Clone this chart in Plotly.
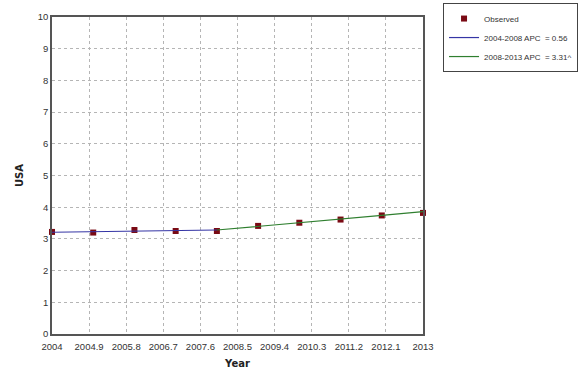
import plotly.graph_objects as go

years = [2004, 2005, 2006, 2007, 2008, 2009, 2010, 2011, 2012, 2013]
observed = [3.22, 3.20, 3.28, 3.25, 3.25, 3.41, 3.51, 3.61, 3.74, 3.82]

seg1_years = [2004, 2005, 2006, 2007, 2008]
seg1_fit = [3.21, 3.23, 3.25, 3.26, 3.28]
seg2_years = [2008, 2009, 2010, 2011, 2012, 2013]
seg2_fit = [3.28, 3.39, 3.50, 3.62, 3.74, 3.86]

x_ticks = [2004, 2004.9, 2005.8, 2006.7, 2007.6, 2008.5, 2009.4, 2010.3, 2011.2, 2012.1, 2013]
x_tick_labels = ["2004", "2004.9", "2005.8", "2006.7", "2007.6", "2008.5", "2009.4",
                 "2010.3", "2011.2", "2012.1", "2013"]
y_ticks = list(range(0, 11))

fig = go.Figure()
fig.add_trace(go.Scatter(x=years, y=observed, mode="markers",
                         marker=dict(symbol="square", color="#7a0a14", size=6),
                         name="Observed", cliponaxis=False))
fig.add_trace(go.Scatter(x=seg1_years, y=seg1_fit, mode="lines",
                         line=dict(color="#3535a5", width=1.2),
                         name="2004-2008 APC  = 0.56"))
fig.add_trace(go.Scatter(x=seg2_years, y=seg2_fit, mode="lines",
                         line=dict(color="#2f7f2f", width=1.2),
                         name="2008-2013 APC  = 3.31^"))

fig.update_layout(
    width=579, height=369,
    margin=dict(l=52, r=156, t=17, b=35, autoexpand=False),
    paper_bgcolor="white", plot_bgcolor="white",
    font=dict(family="Liberation Sans, Arial, sans-serif", size=9.5, color="#333333"),
    showlegend=True,
    legend=dict(x=1.054, y=1.044, xanchor="left", yanchor="top",
                traceorder="normal",
                bordercolor="#444444", borderwidth=1,
                font=dict(size=8, color="#333333"),
                tracegroupgap=0, itemwidth=30),
)
fig.update_xaxes(range=[2004, 2013], tickvals=x_ticks, ticktext=x_tick_labels,
                 showgrid=True, gridcolor="#b5b5b5", griddash="dot", gridwidth=1,
                 showline=True, linecolor="#555555", linewidth=1.5, mirror=True,
                 ticks="", ticklen=0, zeroline=False, ticklabelstandoff=3,
                 title=dict(text="<b>Year</b>", standoff=12,
                            font=dict(family="DejaVu Sans, Verdana, sans-serif", size=10, color="#222222")))
fig.update_yaxes(range=[0, 10], tickvals=y_ticks,
                 showgrid=True, gridcolor="#b5b5b5", griddash="dot", gridwidth=1,
                 showline=True, linecolor="#555555", linewidth=1.5, mirror=True,
                 ticks="", zeroline=False,
                 title=dict(text="<b>USA</b>", standoff=12,
                            font=dict(family="DejaVu Sans, Verdana, sans-serif", size=10, color="#222222")))

fig.write_html("out.html", config={"displayModeBar": False},
               post_script="document.body.style.margin='0';document.body.style.overflow='hidden';")
